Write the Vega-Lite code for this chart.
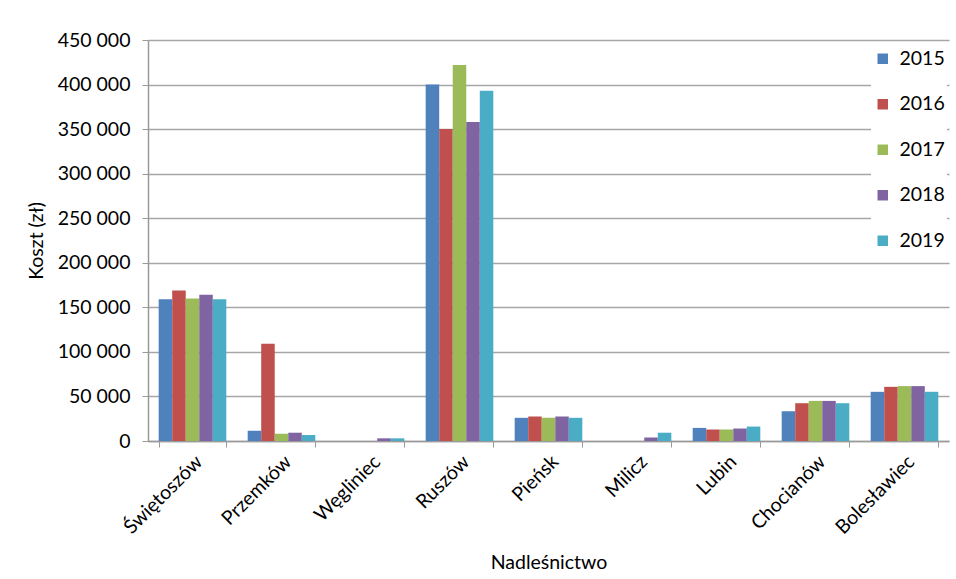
{
  "$schema": "https://vega.github.io/schema/vega-lite/v6.json",
  "width": 801,
  "height": 401,
  "autosize": {"type": "none"},
  "padding": {"left": 148, "top": 40, "right": 7, "bottom": 138},
  "background": "white",
  "config": {
    "font": "Lato",
    "view": {"stroke": null},
    "locale": {"number": {"decimal": ",", "thousands": " ", "grouping": [3], "currency": ["", " zł"]}}
  },
  "data": {
    "values": [
      {"nadlesnictwo": "Świętoszów", "rok": "2015", "koszt": 159000},
      {"nadlesnictwo": "Świętoszów", "rok": "2016", "koszt": 169000},
      {"nadlesnictwo": "Świętoszów", "rok": "2017", "koszt": 160000},
      {"nadlesnictwo": "Świętoszów", "rok": "2018", "koszt": 164000},
      {"nadlesnictwo": "Świętoszów", "rok": "2019", "koszt": 159000},
      {"nadlesnictwo": "Przemków", "rok": "2015", "koszt": 11500},
      {"nadlesnictwo": "Przemków", "rok": "2016", "koszt": 109000},
      {"nadlesnictwo": "Przemków", "rok": "2017", "koszt": 8200},
      {"nadlesnictwo": "Przemków", "rok": "2018", "koszt": 9300},
      {"nadlesnictwo": "Przemków", "rok": "2019", "koszt": 6700},
      {"nadlesnictwo": "Węgliniec", "rok": "2015", "koszt": 0},
      {"nadlesnictwo": "Węgliniec", "rok": "2016", "koszt": 0},
      {"nadlesnictwo": "Węgliniec", "rok": "2017", "koszt": 0},
      {"nadlesnictwo": "Węgliniec", "rok": "2018", "koszt": 3000},
      {"nadlesnictwo": "Węgliniec", "rok": "2019", "koszt": 3000},
      {"nadlesnictwo": "Ruszów", "rok": "2015", "koszt": 400000},
      {"nadlesnictwo": "Ruszów", "rok": "2016", "koszt": 350000},
      {"nadlesnictwo": "Ruszów", "rok": "2017", "koszt": 422000},
      {"nadlesnictwo": "Ruszów", "rok": "2018", "koszt": 358000},
      {"nadlesnictwo": "Ruszów", "rok": "2019", "koszt": 393000},
      {"nadlesnictwo": "Pieńsk", "rok": "2015", "koszt": 26000},
      {"nadlesnictwo": "Pieńsk", "rok": "2016", "koszt": 27500},
      {"nadlesnictwo": "Pieńsk", "rok": "2017", "koszt": 26000},
      {"nadlesnictwo": "Pieńsk", "rok": "2018", "koszt": 27500},
      {"nadlesnictwo": "Pieńsk", "rok": "2019", "koszt": 26000},
      {"nadlesnictwo": "Milicz", "rok": "2015", "koszt": 0},
      {"nadlesnictwo": "Milicz", "rok": "2016", "koszt": 0},
      {"nadlesnictwo": "Milicz", "rok": "2017", "koszt": 0},
      {"nadlesnictwo": "Milicz", "rok": "2018", "koszt": 4000},
      {"nadlesnictwo": "Milicz", "rok": "2019", "koszt": 9300},
      {"nadlesnictwo": "Lubin", "rok": "2015", "koszt": 14700},
      {"nadlesnictwo": "Lubin", "rok": "2016", "koszt": 12900},
      {"nadlesnictwo": "Lubin", "rok": "2017", "koszt": 12900},
      {"nadlesnictwo": "Lubin", "rok": "2018", "koszt": 14000},
      {"nadlesnictwo": "Lubin", "rok": "2019", "koszt": 16200},
      {"nadlesnictwo": "Chocianów", "rok": "2015", "koszt": 33400},
      {"nadlesnictwo": "Chocianów", "rok": "2016", "koszt": 42400},
      {"nadlesnictwo": "Chocianów", "rok": "2017", "koszt": 45000},
      {"nadlesnictwo": "Chocianów", "rok": "2018", "koszt": 45000},
      {"nadlesnictwo": "Chocianów", "rok": "2019", "koszt": 42400},
      {"nadlesnictwo": "Bolesławiec", "rok": "2015", "koszt": 55200},
      {"nadlesnictwo": "Bolesławiec", "rok": "2016", "koszt": 60800},
      {"nadlesnictwo": "Bolesławiec", "rok": "2017", "koszt": 61600},
      {"nadlesnictwo": "Bolesławiec", "rok": "2018", "koszt": 61600},
      {"nadlesnictwo": "Bolesławiec", "rok": "2019", "koszt": 55200}
    ]
  },
  "mark": {"type": "bar"},
  "encoding": {
    "x": {
      "field": "nadlesnictwo",
      "type": "nominal",
      "sort": null,
      "scale": {"paddingInner": 0.24, "paddingOuter": 0.12},
      "axis": {
        "title": "Nadleśnictwo",
        "titleFont": "Lato",
        "titleFontSize": 19.5,
        "titleFontWeight": "normal",
        "titleColor": "#000000",
        "titlePadding": 16,
        "labelAngle": -45,
        "labelFont": "Lato",
        "labelFontSize": 19.5,
        "labelColor": "#000000",
        "labelPadding": 5,
        "tickBand": "extent",
        "tickSize": 6,
        "tickColor": "#9a9a9a",
        "domainColor": "#9a9a9a",
        "domainWidth": 1.5,
        "grid": false
      }
    },
    "xOffset": {"field": "rok", "type": "nominal", "scale": {"paddingInner": 0, "paddingOuter": 0}},
    "y": {
      "field": "koszt",
      "type": "quantitative",
      "scale": {"domain": [0, 450000], "nice": false},
      "axis": {
        "title": "Koszt (zł)",
        "titleFont": "Lato",
        "titleFontSize": 19.5,
        "titleFontWeight": "normal",
        "titleColor": "#000000",
        "titlePadding": 11,
        "values": [0, 50000, 100000, 150000, 200000, 250000, 300000, 350000, 400000, 450000],
        "format": ",d",
        "labelFont": "Lato",
        "labelFontSize": 19.5,
        "labelColor": "#000000",
        "labelPadding": 12,
        "tickSize": 6,
        "tickColor": "#9a9a9a",
        "domainColor": "#9a9a9a",
        "domainWidth": 1.5,
        "gridColor": "#a6a6a6",
        "gridWidth": 1.3
      }
    },
    "color": {
      "field": "rok",
      "type": "nominal",
      "scale": {
        "domain": ["2015", "2016", "2017", "2018", "2019"],
        "range": ["#4F81BD", "#C0504D", "#9BBB59", "#8064A2", "#4BACC6"]
      },
      "legend": {
        "title": null,
        "orient": "none",
        "legendX": 723,
        "legendY": 7,
        "symbolType": "square",
        "symbolSize": 110,
        "symbolStrokeWidth": 0,
        "labelFont": "Lato",
        "labelFontSize": 19.5,
        "labelColor": "#000000",
        "labelOffset": 7,
        "rowPadding": 24.5,
        "fillColor": "white",
        "padding": 2
      }
    }
  }
}
